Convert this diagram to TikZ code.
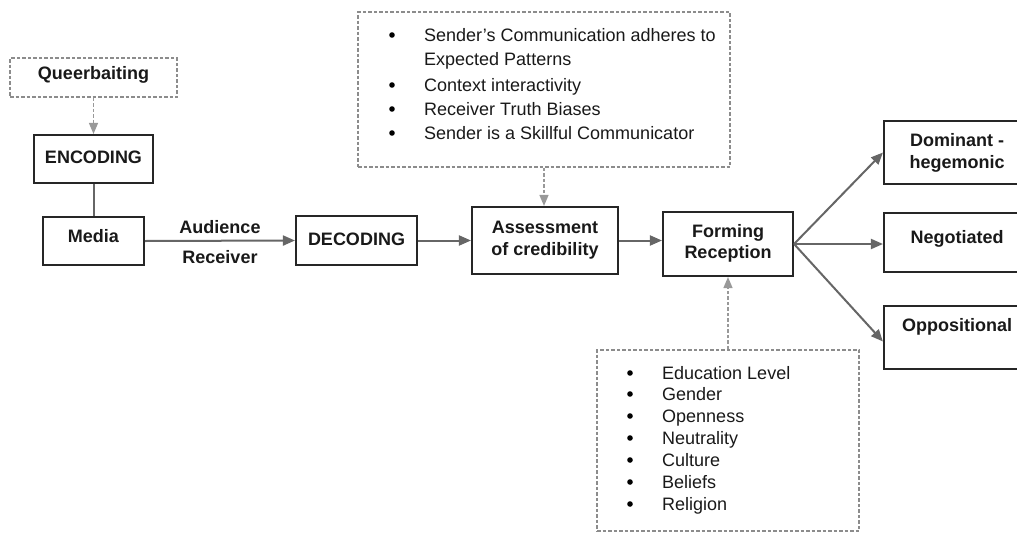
\documentclass[tikz,border=0pt]{standalone}
\usepackage{fontspec}
\setmainfont{Liberation Sans}
\usetikzlibrary{arrows.meta}
\begin{document}
\begin{tikzpicture}[x=1pt,y=-1pt,
  font=\fontsize{18}{21}\selectfont,
  sbox/.style={draw=black!85,line width=2.1pt,inner sep=0pt,fill=white},
  dbox/.style={draw=black!45,line width=1.3pt,dash pattern=on 3.5pt off 2pt,inner sep=0pt},
  conn/.style={draw=black!60,line width=2pt,-{Triangle[length=12pt,width=10pt]}},
  plain/.style={draw=black!60,line width=2pt},
  dconn/.style={draw=black!40,line width=1.3pt,dash pattern=on 3.5pt off 2pt,-{Triangle[length=11pt,width=9pt]}},
  lbl/.style={font=\fontsize{18}{21.5}\selectfont\bfseries,text=black!90,align=center,inner sep=0pt},
  item/.style={anchor=base west,inner sep=0pt,text=black!90},
  dot/.style={fill=black}
]
\useasboundingbox (0,0) rectangle (1017,533);

% boxes
\node[dbox,minimum width=167pt,minimum height=39pt] (qb) at (93.5,77.5) {};
\node[sbox,minimum width=119pt,minimum height=48pt] (enc) at (93.5,159) {};
\node[sbox,minimum width=101pt,minimum height=48pt] (med) at (93.5,241) {};
\node[sbox,minimum width=121pt,minimum height=49pt] (dec) at (356.5,240.5) {};
\node[sbox,minimum width=146pt,minimum height=67pt] (as) at (545,240.5) {};
\node[sbox,minimum width=130pt,minimum height=64pt] (fr) at (728,244) {};
\node[dbox,minimum width=372pt,minimum height=155pt] (top) at (544,89.5) {};
\node[dbox,minimum width=262pt,minimum height=181pt] (bot) at (728,440.5) {};
\node[sbox,minimum width=146pt,minimum height=63pt] (dom) at (957,152.5) {};
\node[sbox,minimum width=146pt,minimum height=59pt] (neg) at (957,242.5) {};
\node[sbox,minimum width=146pt,minimum height=63pt] (opp) at (957,337.5) {};

% labels
\node[lbl] (tqb) at (93.5,75) {Queerbaiting};
\node[lbl] (tenc) at (93.5,157) {ENCODING};
\node[lbl] (tmed) at (93.5,236) {Media};
\node[lbl] (tdec) at (356.5,239) {DECODING};
\node[lbl] (tas) at (545,240) {Assessment\\of credibility};
\node[lbl] (tfr) at (728,243.5) {Forming\\Reception};
\node[lbl] (tdom) at (957,153) {Dominant -\\hegemonic};
\node[lbl] (tneg) at (957,239) {Negotiated};
\node[lbl] (topp) at (957,327) {Oppositional};
\node[lbl] (taud) at (220,227) {Audience};
\node[lbl] (trec) at (220,257) {Receiver};

% top list
\foreach \yy in {35,85,109,133} \fill[dot] (392,\yy) circle (2.8pt);
\node[item] (l1) at (424,41.5) {Sender's Communication adheres to};
\node[item] (l1b) at (424,65.5) {Expected Patterns};
\node[item] (l2) at (424,91.5) {Context interactivity};
\node[item] (l3) at (424,115.5) {Receiver Truth Biases};
\node[item] (l4) at (424,139.5) {Sender is a Skillful Communicator};

% bottom list
\foreach \yy in {373,394,416,438,460,482,504} \fill[dot] (630,\yy) circle (2.8pt);
\node[item] (b1) at (662,379.5) {Education Level};
\node[item] (b2) at (662,400.5) {Gender};
\node[item] (b3) at (662,422.5) {Openness};
\node[item] (b4) at (662,444.5) {Neutrality};
\node[item] (b5) at (662,466.5) {Culture};
\node[item] (b6) at (662,488.5) {Beliefs};
\node[item] (b7) at (662,510.5) {Religion};

% connectors
\draw[dconn] (qb.south) -- (enc.north);
\draw[plain] (enc.south) -- (med.north);
\draw[conn] (med.east) -- (dec.west);
\draw[conn] (dec.east) -- (dec.east -| as.west);
\draw[conn] (as.east) -- (as.east -| fr.west);
\draw[dconn] (top.south) -- (top.south |- as.north);
\draw[dconn] (bot.north) -- (fr.south);
\draw[conn] (fr.east) -- (dom.west);
\draw[conn] (fr.east) -- (fr.east -| neg.west);
\draw[conn] (fr.east) -- ([yshift=-4pt]opp.west);
\end{tikzpicture}
\end{document}
